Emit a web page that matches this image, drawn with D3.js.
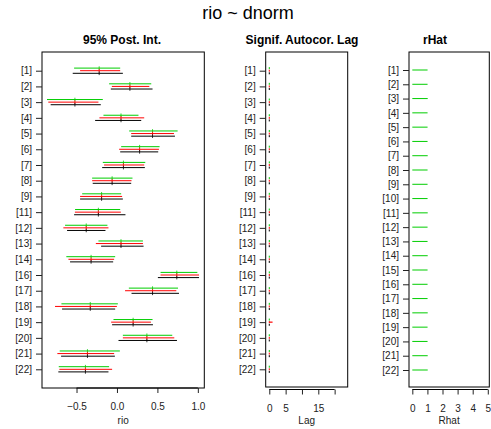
<!DOCTYPE html>
<html>
<head>
<meta charset="utf-8">
<script src="https://cdn.jsdelivr.net/npm/d3@7"></script>
<style>
  html, body { margin: 0; padding: 0; background: #fff; }
  svg { display: block; font-family: "Liberation Sans", Arial, sans-serif; }
</style>
</head>
<body>
<svg id="chart" width="491" height="429"></svg>
<script>
// Parameters shown in the interval and autocorrelation panels
const params = ["[1]","[2]","[3]","[4]","[5]","[6]","[7]","[8]","[9]","[11]",
                "[12]","[13]","[14]","[16]","[17]","[18]","[19]","[20]","[21]","[22]"];

// 95% posterior intervals per chain
const greenLo = [-0.53,-0.097,-0.865,-0.167,0.151,0.052,-0.175,-0.307,-0.43,-0.518,
                 -0.642,-0.229,-0.626,0.539,0.147,-0.687,-0.043,0.073,-0.708,-0.72];
const greenHi = [0.04,0.424,-0.175,0.266,0.75,0.527,0.35,0.192,0.052,0.04,
                 -0.118,0.321,-0.022,0.994,0.755,0.011,0.44,0.684,0.036,-0.097];
const redLo   = [-0.456,-0.063,-0.849,-0.217,0.176,0.027,-0.159,-0.307,-0.456,-0.52,
                 -0.663,-0.261,-0.60,0.539,0.10,-0.766,-0.072,0.073,-0.737,-0.712];
const redHi   = [0.04,0.40,-0.229,0.337,0.705,0.519,0.337,0.18,0.064,0.048,
                 -0.105,0.321,-0.035,1.015,0.734,-0.001,0.42,0.709,-0.035,-0.06];
const blackLo = [-0.547,-0.076,-0.82,-0.27,0.176,0.04,-0.183,-0.30,-0.456,-0.53,
                 -0.617,-0.196,-0.58,0.506,0.18,-0.679,-0.06,0.019,-0.691,-0.725];
const blackHi = [0.073,0.44,-0.20,0.30,0.717,0.51,0.345,0.176,0.073,0.105,
                 -0.142,0.329,-0.047,1.015,0.767,-0.022,0.445,0.742,-0.026,-0.105];
const medians = [-0.22,0.16,-0.52,0.05,0.44,0.28,0.08,-0.06,-0.19,-0.23,
                 -0.38,0.05,-0.32,0.74,0.44,-0.33,0.20,0.37,-0.365,-0.39];

// Significant autocorrelation lag per chain
const greenLag = [0,0,0,0,0,0,0,0,0,0,0,0,0,0,0,0,0,0,0,0];
const redLag   = [0,0,0,0,0,0,0,0,0,0,0,0,0,0,0,0,1,0,0,0];
const blackLag = [0,0,0,0,0,0,0,0,0,0,0,0,0,0,0,0,0,0,0,0];

// Gelman-Rubin statistic for every parameter
const rhatParams = ["[1]","[2]","[3]","[4]","[5]","[6]","[7]","[8]","[9]","[10]","[11]",
                    "[12]","[13]","[14]","[15]","[16]","[17]","[18]","[19]","[20]","[21]","[22]"];
const rhatValues = [1.01,1.01,1.02,1.01,1.01,1.01,1.02,1.01,1.01,1.01,1.02,
                    1.01,1.01,1.02,1.01,1.01,1.01,1.02,1.01,1.01,1.02,1.02];

// Axis ticks
const rioTicks = [-0.5, 0, 0.5, 1.0];
const lagTicks = [0, 5, 10, 15, 20];
const lagTickLabels = ["0", "5", "", "15", ""];
const rhatTicks = [0, 1, 2, 3, 4, 5];

const chains = [
  { color: "#00cd00", off: -2.6, lo: greenLo, hi: greenHi, lag: greenLag },
  { color: "#ff0000", off: 0,    lo: redLo,   hi: redHi,   lag: redLag },
  { color: "#000000", off: 2.6,  lo: blackLo, hi: blackHi, lag: blackLag }
];

const svg = d3.select("#chart");

svg.append("text").attr("x", 248).attr("y", 19).attr("text-anchor", "middle")
  .attr("font-size", 18).attr("fill", "#000").text("rio ~ dnorm");

function panelFrame(x0, x1, y0, y1, title, titleX) {
  svg.append("rect").attr("x", x0).attr("y", y0).attr("width", x1 - x0).attr("height", y1 - y0)
    .attr("fill", "none").attr("stroke", "#000").attr("stroke-width", 1);
  svg.append("text").attr("x", titleX).attr("y", 44).attr("text-anchor", "middle")
    .attr("font-size", 12).attr("font-weight", "bold").text(title);
}

function yAxis(scale, x0) {
  const g = svg.append("g").attr("transform", `translate(${x0},0)`)
    .call(d3.axisLeft(scale).tickSize(6).tickPadding(4).tickSizeOuter(0));
  g.select(".domain").remove();
  g.selectAll("text").attr("font-size", 10).attr("fill", "#222").attr("font-family", "Liberation Sans, Arial, sans-serif");
  g.selectAll("line").attr("stroke", "#222");
}

function xAxis(scale, ticks, labels, yLine, title) {
  const g = svg.append("g").attr("transform", `translate(0,${yLine})`)
    .call(d3.axisBottom(scale).tickValues(ticks).tickSize(5).tickPadding(10)
      .tickFormat((d, i) => labels ? labels[i] : d3.format(".1f")(d)));
  g.select(".domain").remove();
  g.append("line").attr("x1", scale(ticks[0])).attr("x2", scale(ticks[ticks.length - 1]))
    .attr("stroke", "#000");
  g.selectAll("text").attr("font-size", 10).attr("fill", "#222").attr("font-family", "Liberation Sans, Arial, sans-serif");
  g.selectAll(".tick line").attr("stroke", "#222");
  svg.append("text").attr("x", (scale.range()[0] + scale.range()[1]) / 2).attr("y", 424)
    .attr("text-anchor", "middle").attr("font-size", 10).attr("fill", "#222").text(title);
}

// ---- Panel 1: posterior intervals ----
const x1 = d3.scaleLinear().domain([-0.927, 1.08]).range([42, 204.3]);
const y1 = d3.scalePoint().domain(params).range([70.7, 369.3]);
panelFrame(42, 204.3, 52, 388, "95% Post. Int.", 122);
yAxis(y1, 42);
xAxis(x1, rioTicks, null, 388, "rio");

chains.forEach(c => {
  const g = svg.append("g");
  g.selectAll("line.iv").data(params).join("line").attr("class", "iv")
    .attr("x1", (p, i) => x1(c.lo[i])).attr("x2", (p, i) => x1(c.hi[i]))
    .attr("y1", p => y1(p) + c.off).attr("y2", p => y1(p) + c.off)
    .attr("stroke", c.color).attr("stroke-width", 1);
  g.selectAll("line.md").data(params).join("line").attr("class", "md")
    .attr("x1", (p, i) => x1(medians[i])).attr("x2", (p, i) => x1(medians[i]))
    .attr("y1", p => y1(p) + c.off - 1.8).attr("y2", p => y1(p) + c.off + 1.8)
    .attr("stroke", c.color).attr("stroke-width", 0.8);
});

// ---- Panel 2: significant autocorrelation lag ----
const x2 = d3.scaleLinear().domain([-1.1, 24]).range([265.7, 347.7]);
const y2 = d3.scalePoint().domain(params).range([70.7, 369.3]);
panelFrame(265.7, 347.7, 52, 387, "Signif. Autocor. Lag", 302);
yAxis(y2, 265.7);
xAxis(x2, lagTicks, lagTickLabels, 389.5, "Lag");

chains.forEach(c => {
  const g = svg.append("g");
  g.selectAll("line.pt").data(params).join("line").attr("class", "pt")
    .attr("x1", x2(0)).attr("x2", x2(0))
    .attr("y1", p => y2(p) + c.off - 1).attr("y2", p => y2(p) + c.off + 1)
    .attr("stroke", c.color).attr("stroke-width", 1);
  g.selectAll("line.lg").data(params.filter((p, i) => c.lag[i] > 0)).join("line").attr("class", "lg")
    .attr("x1", x2(0)).attr("x2", p => x2(c.lag[params.indexOf(p)]))
    .attr("y1", p => y2(p) + c.off).attr("y2", p => y2(p) + c.off)
    .attr("stroke", c.color).attr("stroke-width", 1.2);
});

// ---- Panel 3: Rhat ----
const x3 = d3.scaleLinear().domain([-0.22, 5.1]).range([409, 489.3]);
const y3 = d3.scalePoint().domain(rhatParams).range([70, 370]);
panelFrame(409, 489.3, 52, 387, "rHat", 435);
yAxis(y3, 409);
xAxis(x3, rhatTicks, rhatTicks.map(String), 389.5, "Rhat");

svg.append("g").selectAll("line").data(rhatParams).join("line")
  .attr("x1", x3(0)).attr("x2", (p, i) => x3(rhatValues[i]))
  .attr("y1", p => y3(p)).attr("y2", p => y3(p))
  .attr("stroke", "#00cd00").attr("stroke-width", 1);
</script>
</body>
</html>
